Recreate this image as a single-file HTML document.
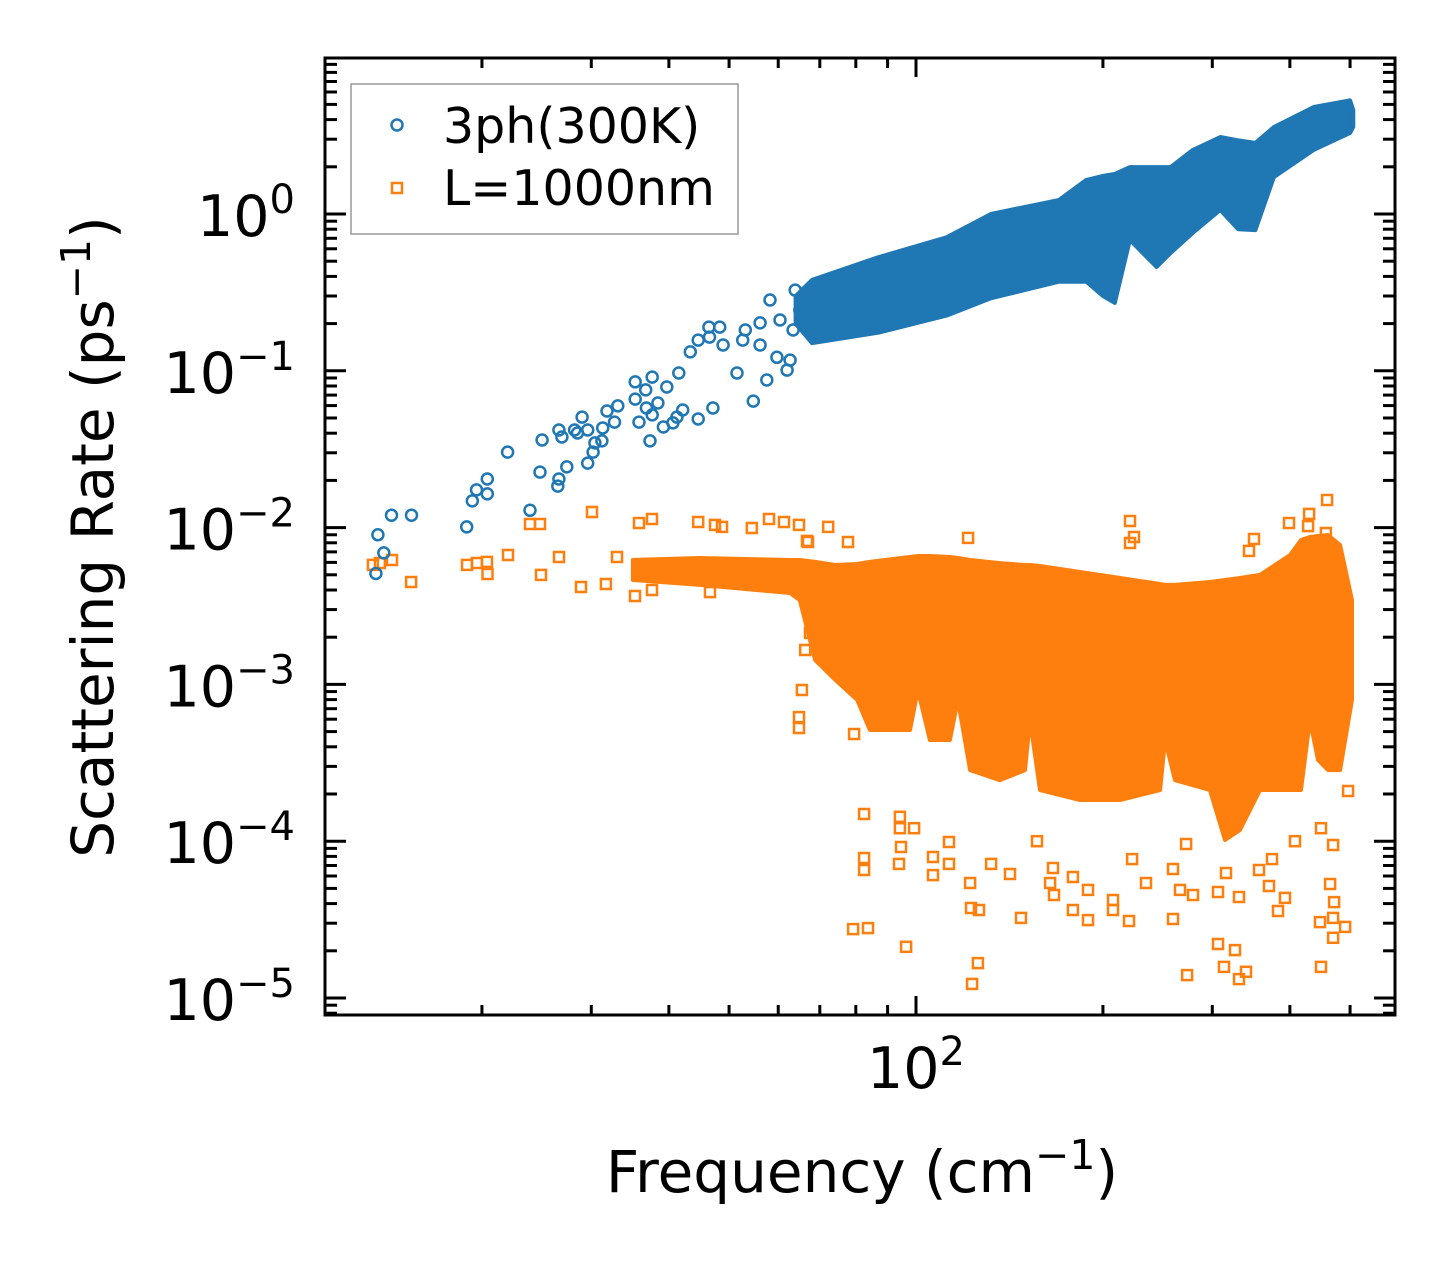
<!DOCTYPE html>
<html><head><meta charset="utf-8"><style>
html,body{margin:0;padding:0;background:#fff;}
svg{display:block;font-family:"DejaVu Sans","Liberation Sans",sans-serif;}
</style></head><body>
<svg id="chart" width="1455" height="1265" viewBox="0 0 1455 1265" xmlns="http://www.w3.org/2000/svg">
<defs><clipPath id="plotclip"><rect x="325" y="58" width="1070" height="957"/></clipPath></defs>
<rect x="0" y="0" width="1455" height="1265" fill="#fff"/>
<g id="bands" clip-path="url(#plotclip)"></g>
<g id="marks" clip-path="url(#plotclip)"></g>
<g id="ticks"></g>
<rect x="325" y="58" width="1070" height="957" fill="none" stroke="#000" stroke-width="3"/>
<g id="ticklabels" font-size="57" fill="#000"></g>
<text x="862" y="1192" font-size="58" text-anchor="middle">Frequency (cm<tspan dy="-23" font-size="41">−1</tspan><tspan dy="23">)</tspan></text>
<text transform="translate(113,537) rotate(-90)" font-size="58" text-anchor="middle">Scattering Rate (ps<tspan dy="-23" font-size="41">−1</tspan><tspan dy="23">)</tspan></text>
<g>
<rect x="351" y="84" width="387" height="150" fill="#fff" fill-opacity="0.8" stroke="#999" stroke-width="1.5"/>
<circle cx="397" cy="125" r="5.5" fill="none" stroke="#1f77b4" stroke-width="2.5"/>
<text x="443" y="143" font-size="49">3ph(300K)</text>
<rect x="392" y="183" width="10" height="10" fill="none" stroke="#ff7f0e" stroke-width="2.5"/>
<text x="443" y="205" font-size="49">L=1000nm</text>
</g>
</svg>
<script>
// ---- data ----
const blueBandFreq = [64, 68, 87, 112, 132, 170, 188, 200, 209, 221, 244, 257, 279, 309, 330, 352, 377, 437, 500, 506];
const blueBandUpper = [0.3, 0.38, 0.53, 0.71, 1.0, 1.23, 1.65, 1.75, 1.8, 1.99, 1.99, 1.99, 2.56, 3.1, 2.95, 2.84, 3.59, 4.81, 5.3, 4.6];
const blueBandLower = [0.2, 0.15, 0.175, 0.225, 0.29, 0.37, 0.37, 0.3, 0.271, 0.683, 0.459, 0.564, 0.756, 1.06, 0.8, 0.79, 1.72, 2.56, 3.29, 3.6];
const blueFreq = [13.5,13.6,13.9,14.3,15.4,18.9,19.3,19.6,20.4,20.4,22.0,23.9,24.8,25.0,26.5,26.6,27.4,26.6,26.9,28.2,29.0,28.5,29.6,29.6,30.2,30.4,31.2,31.3,31.8,32.7,33.1,35.3,35.3,35.8,36.7,36.8,37.3,37.6,37.6,38.4,39.2,39.7,40.6,41.2,41.5,42.1,43.3,44.6,44.6,46.4,46.5,47.1,48.3,54.7,48.9,51.5,52.6,56.1,59.7,57.5,63.4,62.0,65.0,53.1,56.1,58.2,60.4,62.7,63.9];
const blueRate = [0.0051,0.0090,0.0069,0.012,0.012,0.0101,0.0148,0.0174,0.0204,0.0164,0.0303,0.0129,0.0226,0.0362,0.0184,0.0204,0.0244,0.0419,0.0378,0.0419,0.0507,0.0401,0.0419,0.0258,0.0303,0.0347,0.0357,0.0432,0.0554,0.0471,0.0597,0.0849,0.066,0.0471,0.0755,0.0579,0.0357,0.0912,0.0523,0.0623,0.0438,0.0788,0.0465,0.0507,0.0968,0.0562,0.132,0.157,0.0493,0.19,0.164,0.0579,0.19,0.0641,0.146,0.0968,0.157,0.202,0.122,0.0873,0.182,0.101,0.244,0.182,0.146,0.283,0.211,0.117,0.327];
const orangeBandFreq = [35.0,44.9,62.7,65.0,68.8,74.1,80.4,84.3,97.8,100.7,105.3,113.4,116.8,122.2,136.5,149.8,152.6,158.4,183.6,213.1,247.2,251.8,261.3,297.4,314.5,332.5,358.0,400.3,416.9,430.9,444.0,460.8,481.8,503.6];
const orangeBandUpper = [0.00621,0.00640,0.00621,0.00621,0.00604,0.00577,0.00586,0.00604,0.00649,0.00659,0.00659,0.00649,0.00640,0.00621,0.00594,0.00577,0.00577,0.00569,0.00521,0.00477,0.00437,0.00431,0.00431,0.00450,0.00463,0.00477,0.00499,0.00668,0.00834,0.00871,0.00884,0.00897,0.00774,0.00345];
const orangeBandLower = [0.00463,0.00431,0.00383,0.00345,0.00143,0.00107,0.000796,0.000512,0.000512,0.000921,0.000442,0.000442,0.000796,0.000284,0.000245,0.000284,0.000593,0.000212,0.000183,0.000183,0.000212,0.000442,0.000245,0.000212,0.000102,0.000118,0.000212,0.000212,0.000212,0.000593,0.000330,0.000284,0.000284,0.000796];
const orangeFreq = [13.35,13.70,14.33,15.38,18.92,19.63,20.38,20.42,22.03,23.90,24.80,24.9,26.61,30.08,28.88,31.67,33.0,35.28,37.57,35.8,37.57,44.6,46.59,47.46,48.7,54.4,57.99,61.3,64.8,66.75,72.2,77.7,67.0,221.1,224.4,221.1,350.2,343.7,398.7,429.6,459.2,428.0,457.2,121.3,66.3,65.5,64.8,64.8,67.5,79.5,79.2,83.7,96.4,82.5,82.5,82.5,94.2,94.2,99.3,94.6,93.9,106.5,106.5,113.0,113.0,122.6,126.3,125.8,123.1,122.2,132.1,141.7,147.6,156.6,166.2,164.4,166.8,178.9,178.9,189.2,189.2,207.6,207.6,220.3,222.8,234.6,259.3,259.3,266.1,273.2,279.3,306.4,306.4,313.3,326.3,331.2,331.2,340.0,370.2,382.8,392.9,407.7,464.4,471.3,447.3,469.6,490.9,469.6,448.9,496.4,448.9,469.6,374.4,272.2,315.6,356.7];
const orangeRate = [0.00578,0.00595,0.00621,0.00450,0.00578,0.00595,0.00604,0.00506,0.00669,0.01054,0.01054,0.00499,0.00649,0.01258,0.00418,0.00437,0.00649,0.00366,0.00400,0.0107,0.01135,0.01086,0.00388,0.0104,0.0101,0.00994,0.01135,0.01086,0.0104,0.00822,0.0101,0.00809,0.00809,0.01102,0.00871,0.00798,0.00846,0.00710,0.0107,0.01222,0.0150,0.01023,0.00924,0.00859,0.001657,0.000921,0.000619,0.000527,0.00213,0.000483,2.75e-5,2.79e-5,2.12e-5,0.000149,7.81e-5,6.55e-5,0.000143,0.000121,0.000121,9.18e-5,7.16e-5,7.93e-5,6.08e-5,9.89e-5,7.16e-5,3.75e-5,3.64e-5,1.67e-5,1.23e-5,5.41e-5,7.16e-5,6.18e-5,3.24e-5,0.0001,6.75e-5,5.41e-5,4.54e-5,5.91e-5,3.64e-5,4.89e-5,3.14e-5,4.22e-5,3.64e-5,3.10e-5,7.69e-5,5.41e-5,3.19e-5,6.65e-5,4.89e-5,1.40e-5,4.54e-5,4.74e-5,2.21e-5,1.58e-5,2.02e-5,4.41e-5,1.32e-5,1.47e-5,5.18e-5,3.59e-5,4.35e-5,0.0001,5.33e-5,4.09e-5,3.05e-5,3.24e-5,2.84e-5,2.42e-5,1.58e-5,0.000209,0.000121,9.46e-5,7.69e-5,9.60e-5,6.27e-5,6.55e-5];
const xMajorTicks = [100];
const xMajorLabels = ["2"];
const yMajorTicks = [1, 0.1, 0.01, 0.001, 0.0001, 0.00001];
const yMajorLabels = ["0", "−1", "−2", "−3", "−4", "−5"];

// ---- axes ----
const X0 = 325, X1 = 1395, Y0 = 58, Y1 = 1015;
const xLogMin = 2 + (X0 - 916) / 621, xLogMax = 2 + (X1 - 916) / 621;
const yLogMax = (214 - Y0) / 156.8, yLogMin = (214 - Y1) / 156.8;
function sx(v){ return X0 + (Math.log10(v) - xLogMin) / (xLogMax - xLogMin) * (X1 - X0); }
function sy(v){ return Y1 - (Math.log10(v) - yLogMin) / (yLogMax - yLogMin) * (Y1 - Y0); }
const NS = "http://www.w3.org/2000/svg";
function mk(tag, attrs){ const e = document.createElementNS(NS, tag); for (const k in attrs) e.setAttribute(k, attrs[k]); return e; }

const bands = document.getElementById('bands');
function band(freq, up, lo, color, name){
  const pts = [];
  for (let i = 0; i < freq.length; i++) pts.push(sx(freq[i]).toFixed(1) + ',' + sy(up[i]).toFixed(1));
  for (let i = freq.length - 1; i >= 0; i--) pts.push(sx(freq[i]).toFixed(1) + ',' + sy(lo[i]).toFixed(1));
  const p = mk('polygon', {points: pts.join(' '), fill: color, stroke: color, 'stroke-width': 4, 'stroke-linejoin': 'round'});
  
  
  bands.appendChild(p);
}
band(orangeBandFreq, orangeBandUpper, orangeBandLower, '#ff7f0e', 'boundary-dense-region');
band(blueBandFreq, blueBandUpper, blueBandLower, '#1f77b4', '3ph-dense-region');

const marks = document.getElementById('marks');
for (let i = 0; i < orangeFreq.length; i++) {
  const r = mk('rect', {x: (sx(orangeFreq[i]) - 5).toFixed(1), y: (sy(orangeRate[i]) - 5).toFixed(1), width: 10, height: 10, fill: 'none', stroke: '#ff7f0e', 'stroke-width': 2.5});
  
  
  marks.appendChild(r);
}
for (let i = 0; i < blueFreq.length; i++) {
  const c = mk('circle', {cx: sx(blueFreq[i]).toFixed(1), cy: sy(blueRate[i]).toFixed(1), r: 5.5, fill: 'none', stroke: '#1f77b4', 'stroke-width': 2.5});
  
  
  marks.appendChild(c);
}

// ---- ticks ----
const ticks = document.getElementById('ticks');
function tline(x1, y1, x2, y2, name){
  const l = mk('line', {x1: x1, y1: y1, x2: x2, y2: y2, stroke: '#000', 'stroke-width': 3});
  
  
  ticks.appendChild(l);
}
for (let d = 0; d <= 3; d++) {
  for (let k = 1; k <= 9; k++) {
    const v = k * Math.pow(10, d);
    const lv = Math.log10(v);
    if (lv < xLogMin || lv > xLogMax) continue;
    const x = sx(v);
    const len = (k === 1) ? 19 : 10;
    tline(x, Y1, x, Y1 - len, k === 1 ? 'x-major-tick' : 'x-minor-tick');
    tline(x, Y0, x, Y0 + len, k === 1 ? 'x-major-tick-top' : 'x-minor-tick-top');
  }
}
for (let d = -6; d <= 1; d++) {
  for (let k = 1; k <= 9; k++) {
    const v = k * Math.pow(10, d);
    const lv = Math.log10(v);
    if (lv < yLogMin || lv > yLogMax) continue;
    const y = sy(v);
    const len = (k === 1) ? 21 : 12;
    tline(X0, y, X0 + len, y, k === 1 ? 'y-major-tick' : 'y-minor-tick');
    tline(X1, y, X1 - len, y, k === 1 ? 'y-major-tick-right' : 'y-minor-tick-right');
  }
}

// ---- tick labels ----
const tl = document.getElementById('ticklabels');
for (let i = 0; i < yMajorTicks.length; i++) {
  const t = mk('text', {x: 295, y: (sy(yMajorTicks[i]) + 22).toFixed(1), 'text-anchor': 'end'});
  
  
  t.appendChild(document.createTextNode('10'));
  const s = mk('tspan', {dy: -23, 'font-size': 40});
  s.textContent = yMajorLabels[i];
  t.appendChild(s);
  tl.appendChild(t);
}
for (let i = 0; i < xMajorTicks.length; i++) {
  const t = mk('text', {x: sx(xMajorTicks[i]).toFixed(1), y: 1088, 'text-anchor': 'middle'});
  
  
  t.appendChild(document.createTextNode('10'));
  const s = mk('tspan', {dy: -23, 'font-size': 40});
  s.textContent = xMajorLabels[i];
  t.appendChild(s);
  tl.appendChild(t);
}
</script>
</body></html>
